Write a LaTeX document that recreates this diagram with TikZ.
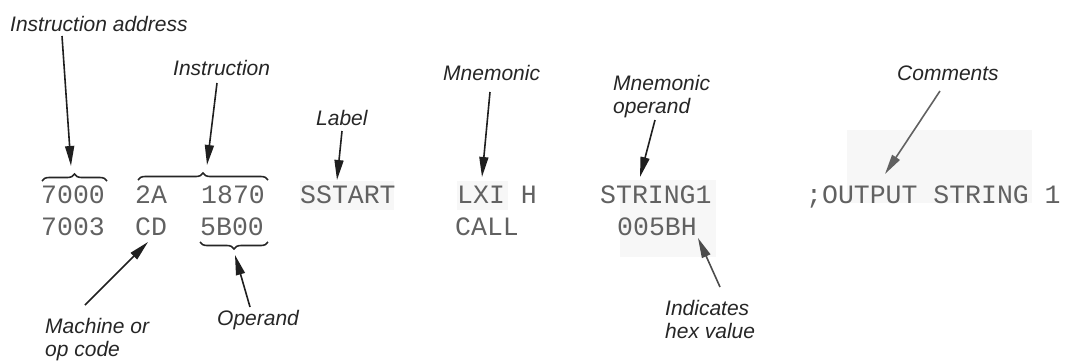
\documentclass[tikz,border=0pt]{standalone}
\usepackage{fontspec}
\setmainfont{Liberation Sans}
\newfontfamily\codefont{Liberation Mono}
\usetikzlibrary{arrows.meta,decorations.pathreplacing}
\begin{document}
\begin{tikzpicture}[x=1pt,y=-1pt,
  lbl/.style={font=\itshape\fontsize{21}{23}\selectfont, text=black!85, inner sep=0pt, anchor=base west},
  lbltwo/.style={font=\itshape\fontsize{21}{23}\selectfont, text=black!85, inner sep=0pt, anchor=north west, align=left},
  code/.style={font=\codefont\fontsize{26.5}{30}\selectfont, text=black!62, inner sep=0pt, anchor=base west},
  arr/.style={line width=1.6pt, draw=black!88, -{Triangle[length=20pt,width=9pt]}},
  brc/.style={decorate, decoration={brace,amplitude=7pt}, line width=1.6pt, draw=black!85},
  tint/.style={fill=black!3, draw=none}]
\useasboundingbox (0,0) rectangle (1066,362);

% faint highlighted areas behind some fields
\fill[tint] (300,181) rectangle (394,210);
\fill[tint] (457,181) rectangle (508,210);
\fill[tint] (620,180) rectangle (716,257);
\fill[tint] (847,130) rectangle (1032,203);

% listing, line 1
\node[code] (adr1) at (41,203) {7000};
\node[code] (op1)  at (135,203) {2A};
\node[code] (arg1) at (201,203) {1870};
\node[code] (lab1) at (300,203) {SSTART};
\node[code] (mn1)  at (457,203) {LXI H};
\node[code] (mo1)  at (600,203) {STRING1};
\node[code] (cm1)  at (806,203) {;OUTPUT STRING 1};
% listing, line 2
\node[code] (adr2) at (41,235) {7003};
\node[code] (op2)  at (135,235) {CD};
\node[code] (arg2) at (200,235) {5B00};
\node[code] (mn2)  at (455,235) {CALL};
\node[code] (mo2)  at (617,235) {005BH};

% braces grouping fields
\draw[brc] (42,181) -- (107,181) coordinate[pos=0.45] (badr);
\draw[brc] (138,180) -- (268,180) coordinate[pos=0.5] (bins);
\draw[brc] (268,242) -- (200,242) coordinate[pos=0.5] (bopd);
\coordinate (badrtip) at (71,166);
\coordinate (binstip) at (207,165);
\coordinate (bopdtip) at (235,255);

% callout labels
\node[lbl] (tAdr)  at (10,31)  {Instruction address};
\node[lbl] (tIns)  at (173,75) {Instruction};
\node[lbl] (tLab)  at (316,125) {Label};
\node[lbl] (tMn)   at (443,80) {Mnemonic};
\node[lbltwo] (tMo) at (613,75) {Mnemonic\\operand};
\node[lbl] (tCm)   at (897,80) {Comments};
\node[lbltwo] (tMc) at (45,318) {Machine or\\op code};
\node[lbl] (tOpd)  at (217,325) {Operand};
\node[lbltwo] (tHx) at (665,300) {Indicates\\hex value};

% arrow start points just outside the labels
\coordinate (sAdr) at (62,36);
\coordinate (sIns) at (217,83);
\coordinate (sLab) at (342,131);
\coordinate (sMn)  at (490,92);
\coordinate (sMo)  at (655,120);
\coordinate (sCm)  at (940,91);
\coordinate (sMc)  at (85,305);
\coordinate (sOpd) at (250,307);
\coordinate (sHx)  at (720,287);

% arrow tips
\coordinate (eLab) at (337,180);
\coordinate (eMn)  at (482,177);
\coordinate (eMo)  at (640,177);
\coordinate (eCm)  at (885,174);
\coordinate (eMc)  at (148,242);
\coordinate (eHx)  at (698,238);

\draw[arr] (sAdr) -- (badrtip);
\draw[arr] (sIns) -- (binstip);
\draw[arr] (sLab) -- (eLab);
\draw[arr] (sMn)  -- (eMn);
\draw[arr] (sMo)  -- (eMo);
\draw[arr, draw=black!62] (sCm) -- (eCm);
\draw[arr] (sMc)  -- (eMc);
\draw[arr] (sOpd) -- (bopdtip);
\draw[arr, draw=black!70] (sHx) -- (eHx);
\end{tikzpicture}
\end{document}
